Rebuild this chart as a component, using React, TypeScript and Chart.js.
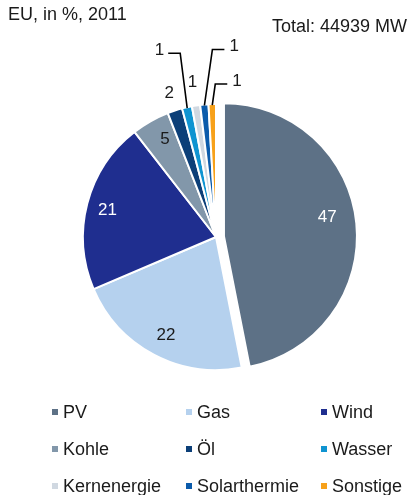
import React, { useEffect, useRef } from "react";
import { Chart, registerables } from "chart.js";

Chart.register(...registerables);

const categories = ["PV", "Gas", "Wind", "Kohle", "Öl", "Wasser", "Kernenergie", "Solarthermie", "Sonstige"];
const shares = [46.9, 21.7, 20.9, 4.6, 1.8, 1.2, 1.0, 1.0, 0.9];
const shownLabels = ["47", "22", "21", "5", "2", "1", "1", "1", "1"];
const colors = ["#5d7186", "#b5d1ee", "#1f2e8f", "#8297aa", "#0c3f78", "#0f94d1", "#d0d8e1", "#0b5bab", "#f7a11a"];
const titleText = "EU, in %, 2011";
const totalText = "Total: 44939 MW";

const explode = [8, 0, 0, 0, 0, 0, 0, 0, 0];

const FONT = '"Liberation Sans", Arial, sans-serif';
const TEXT = "#1a1a1a";

type LabelStyle =
  | { mode: "in"; color: string; r: number; da?: number }
  | { mode: "out"; d: number }
  | { mode: "lead"; ex: number; ey: number; hx: number };

const labelStyles: LabelStyle[] = [
  { mode: "in", color: "#ffffff", r: 0.79, da: -5 },
  { mode: "in", color: TEXT, r: 0.83, da: -1 },
  { mode: "in", color: "#ffffff", r: 0.84, da: -1 },
  { mode: "in", color: TEXT, r: 0.83, da: 2 },
  { mode: "out", d: 18 },
  { mode: "lead", ex: -7, ey: -55, hx: -12 },
  { mode: "out", d: 23 },
  { mode: "lead", ex: 8, ey: -56, hx: 12 },
  { mode: "lead", ex: 3, ey: -21, hx: 12 },
];

const explodePlugin = {
  id: "explodeSlices",
  afterUpdate(chart: any) {
    const meta = chart.getDatasetMeta(0);
    meta.data.forEach((arc: any, i: number) => {
      const o = explode[i] || 0;
      if (!o) return;
      const mid = (arc.startAngle + arc.endAngle) / 2;
      arc.x += Math.cos(mid) * o;
      arc.y += Math.sin(mid) * o;
    });
  },
};

const labelPlugin = {
  id: "sliceLabels",
  afterDatasetsDraw(chart: any) {
    const ctx = chart.ctx as CanvasRenderingContext2D;
    const meta = chart.getDatasetMeta(0);
    ctx.save();
    ctx.font = `17px ${FONT}`;
    meta.data.forEach((arc: any, i: number) => {
      const p = arc.getProps(["x", "y", "startAngle", "endAngle", "outerRadius"], true);
      const mid = (p.startAngle + p.endAngle) / 2;
      const st = labelStyles[i];
      const cx = p.x;
      const cy = p.y;
      if (st.mode === "in") {
        const a = mid + ((st.da || 0) * Math.PI) / 180;
        ctx.fillStyle = st.color;
        ctx.textAlign = "center";
        ctx.textBaseline = "middle";
        ctx.fillText(shownLabels[i], cx + Math.cos(a) * p.outerRadius * st.r, cy + Math.sin(a) * p.outerRadius * st.r);
      } else if (st.mode === "out") {
        ctx.fillStyle = TEXT;
        ctx.textAlign = "center";
        ctx.textBaseline = "middle";
        ctx.fillText(shownLabels[i], cx + Math.cos(mid) * (p.outerRadius + st.d), cy + Math.sin(mid) * (p.outerRadius + st.d));
      } else {
        const ex = cx + Math.cos(mid) * (p.outerRadius - 1);
        const ey = cy + Math.sin(mid) * (p.outerRadius - 1);
        const bx = ex + st.ex;
        const by = ey + st.ey;
        const hx = bx + st.hx;
        ctx.strokeStyle = "#000";
        ctx.lineWidth = 1.6;
        ctx.beginPath();
        ctx.moveTo(ex, ey);
        ctx.lineTo(bx, by);
        ctx.lineTo(hx, by);
        ctx.stroke();
        ctx.fillStyle = TEXT;
        ctx.textBaseline = "middle";
        if (st.hx < 0) {
          ctx.textAlign = "right";
          ctx.fillText(shownLabels[i], hx - 4, by - 3);
        } else {
          ctx.textAlign = "left";
          ctx.fillText(shownLabels[i], hx + 5, by - 3);
        }
      }
    });
    ctx.restore();
  },
};

const legendCols = [52, 186, 321];
const legendRowBaselines = [418, 455, 492];

const decorPlugin = {
  id: "decor",
  afterDraw(chart: any) {
    const ctx = chart.ctx as CanvasRenderingContext2D;
    ctx.save();
    ctx.font = `18px ${FONT}`;
    ctx.fillStyle = TEXT;
    ctx.textAlign = "left";
    ctx.textBaseline = "alphabetic";
    ctx.fillText(titleText, 8, 20);
    ctx.fillText(totalText, 272, 32);
    categories.forEach((c, i) => {
      const col = i % 3;
      const row = Math.floor(i / 3);
      const x = legendCols[col];
      const base = legendRowBaselines[row];
      ctx.fillStyle = colors[i];
      ctx.fillRect(x, base - 9, 6, 6);
      ctx.fillStyle = TEXT;
      ctx.fillText(c, x + 11, base);
    });
    ctx.restore();
  },
};

export default function App() {
  const ref = useRef<HTMLCanvasElement | null>(null);
  useEffect(() => {
    if (!ref.current) return;
    const chart = new Chart(ref.current, {
      type: "pie",
      data: {
        labels: categories,
        datasets: [
          {
            data: shares,
            backgroundColor: colors,
            borderColor: "#ffffff",
            borderWidth: 2,
          },
        ],
      },
      options: {
        responsive: false,
        animation: false,
        radius: 133,
        layout: { padding: { left: 50, right: 27, top: 60, bottom: 81 } },
        plugins: {
          legend: { display: false },
          tooltip: { enabled: false },
          title: { display: false },
        },
      } as any,
      plugins: [explodePlugin, labelPlugin, decorPlugin],
    });
    return () => chart.destroy();
  }, []);
  return (
    <div style={{ position: "fixed", left: 0, top: 0, width: 409, height: 495, background: "#fff" }}>
      <canvas ref={ref} width={409} height={495} style={{ width: 409, height: 495, display: "block" }} />
    </div>
  );
}
